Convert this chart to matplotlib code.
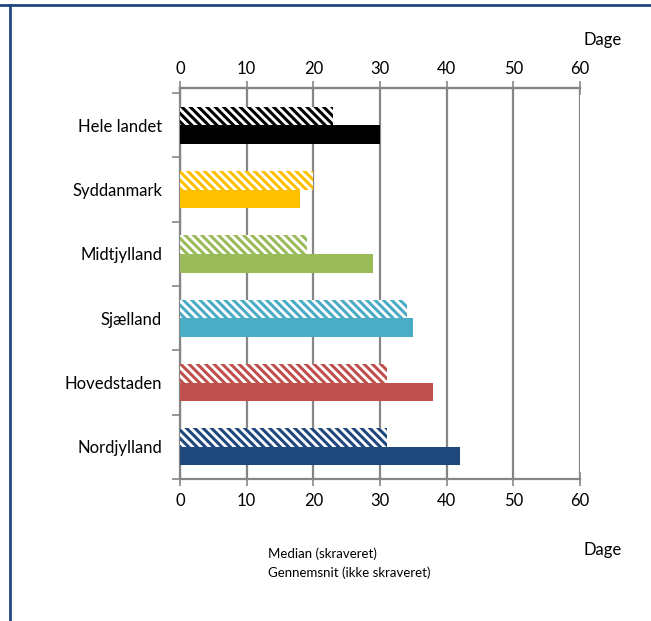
import matplotlib.pyplot as plt
from matplotlib.lines import Line2D

regions = ["Hele landet", "Syddanmark", "Midtjylland", "Sjælland", "Hovedstaden", "Nordjylland"]
median = [23, 20, 19, 34, 31, 31]
mean = [30, 18, 29, 35, 38, 42]
colors = ["#000000", "#FFC000", "#9BBB59", "#4BACC6", "#C0504D", "#1F497D"]
xticks = [0, 10, 20, 30, 40, 50, 60]

plt.rcParams['font.family'] = ['Lato', 'DejaVu Sans']
plt.rcParams['hatch.linewidth'] = 2.2

fig = plt.figure(figsize=(6.51, 6.21), dpi=100)
ax = fig.add_axes([180 / 651, 1 - 479 / 621, 400 / 651, 391 / 621])

h = 0.29
for i, (md, mn, c) in enumerate(zip(median, mean, colors)):
    ax.barh(i - h / 2, md, height=h, facecolor="white", edgecolor=c,
            hatch="\\" * 4, linewidth=0, zorder=3)
    ax.barh(i + h / 2, mn, height=h, color=c, linewidth=0, zorder=3)

grey = "#868686"
ax.set_xlim(0, 60)
ax.set_ylim(len(regions) - 0.5, -0.58)
ax.set_xticks(xticks)
ax.xaxis.grid(True, color=grey, linewidth=1.6, zorder=0)
ax.tick_params(axis="x", direction="inout", length=10, width=1.2, color=grey,
               labelsize=12, pad=5)
ax.set_yticks(range(len(regions)))
ax.set_yticklabels(regions)
ax.set_yticks([i - 0.5 for i in range(len(regions) + 1)], minor=True)
ax.tick_params(axis="y", which="major", length=0, labelsize=12, pad=13)
ax.tick_params(axis="y", which="minor", length=6, width=1.2, color=grey)
for s in ["top", "bottom", "left"]:
    ax.spines[s].set_color(grey)
    ax.spines[s].set_linewidth(1.6)
ax.spines["right"].set_visible(False)

top = ax.secondary_xaxis("top")
top.set_xticks(xticks)
top.tick_params(direction="inout", length=10, width=1.2, color=grey, labelsize=12, pad=3)
top.spines["top"].set_color(grey)
top.spines["top"].set_linewidth(1.6)

fig.text(603 / 651, 1 - 40 / 621, "Dage", ha="center", va="center", fontsize=12)
fig.text(603 / 651, 1 - 550 / 621, "Dage", ha="center", va="center", fontsize=12)
fig.text(268 / 651, 1 - 554 / 621, "Median (skraveret)", ha="left", va="center", fontsize=9.5)
fig.text(268 / 651, 1 - 573 / 621, "Gennemsnit (ikke skraveret)", ha="left", va="center", fontsize=9.5)

# frame lines of the surrounding box
fig.add_artist(Line2D([0, 1], [1 - 5 / 621, 1 - 5 / 621], color="#1F497D", linewidth=2,
                      transform=fig.transFigure))
fig.add_artist(Line2D([10 / 651, 10 / 651], [0, 1 - 5 / 621], color="#1F497D", linewidth=2,
                      transform=fig.transFigure))

fig.savefig("out.png", dpi=100)
